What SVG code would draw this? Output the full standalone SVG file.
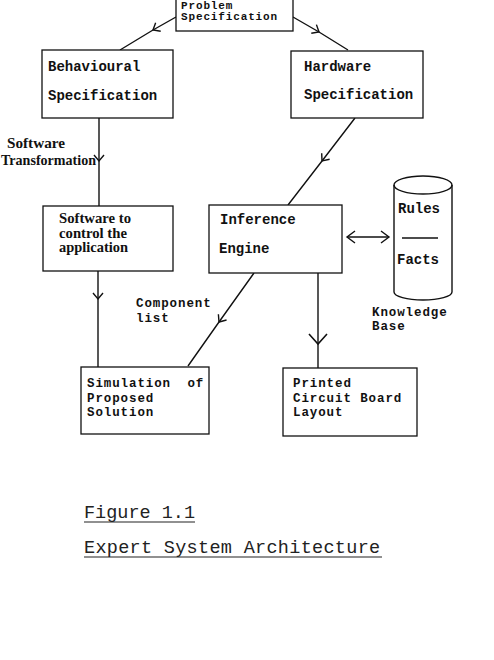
<svg xmlns="http://www.w3.org/2000/svg" width="494" height="660" viewBox="0 0 494 660">
<style>
.box{fill:#fff;stroke:#111;stroke-width:1.3}
.mono{font-family:"Liberation Mono","Courier New",monospace;font-weight:bold;font-size:14px;fill:#111}
.sm{font-size:12.5px;letter-spacing:0.9px}
.serif{font-family:"Liberation Serif","Times New Roman",serif;font-weight:bold;font-size:14px;fill:#111}
.ln{fill:none;stroke:#111;stroke-width:1.4}
.cap{font-family:"Liberation Mono","Courier New",monospace;font-size:18.5px;fill:#222}
</style>
<defs>
<marker id="chev" markerUnits="userSpaceOnUse" markerWidth="20" markerHeight="20" refX="0" refY="0" viewBox="-10 -10 20 20" orient="auto" overflow="visible">
<path d="M-6,-5 L0,0 L-6,5" fill="none" stroke="#111" stroke-width="1.4"/>
</marker>
<marker id="chevL" markerUnits="userSpaceOnUse" markerWidth="30" markerHeight="30" refX="0" refY="0" viewBox="-15 -15 30 30" orient="auto" overflow="visible">
<path d="M-10,-9 L0,0 L-10,9" fill="none" stroke="#111" stroke-width="1.6"/>
</marker>
<marker id="headE" markerUnits="userSpaceOnUse" markerWidth="20" markerHeight="20" refX="0" refY="0" viewBox="-10 -10 20 20" orient="auto" overflow="visible">
<path d="M-8,-6 L0,0 L-8,6" fill="none" stroke="#111" stroke-width="1.4"/>
</marker>
<marker id="headS" markerUnits="userSpaceOnUse" markerWidth="20" markerHeight="20" refX="0" refY="0" viewBox="-10 -10 20 20" orient="auto" overflow="visible">
<path d="M8,-6 L0,0 L8,6" fill="none" stroke="#111" stroke-width="1.4"/>
</marker>
</defs>

<g id="connectors">
<path class="ln" d="M176,17 L153,30 L120,50" marker-mid="url(#chev)"/>
<path class="ln" d="M293,17 L319,32 L348,50" marker-mid="url(#chev)"/>
<path class="ln" d="M99,118 L99,161 L99,206" marker-mid="url(#chev)"/>
<path class="ln" d="M355,118 L322,161 L288,205" marker-mid="url(#chev)"/>
<path class="ln" d="M254,273 L219,322 L188,366" marker-mid="url(#chev)"/>
<path class="ln" d="M98,271 L98,299 L98,367" marker-mid="url(#chev)"/>
<path class="ln" d="M318,273 L318,344 L318,368" marker-mid="url(#chevL)"/>
<path class="ln" d="M347,237 L389,237" marker-start="url(#headS)" marker-end="url(#headE)"/>
<text class="serif" x="7" y="148" textLength="58" lengthAdjust="spacingAndGlyphs">Software</text>
<text class="serif" x="1" y="165" textLength="95" lengthAdjust="spacingAndGlyphs">Transformation</text>
<text class="mono sm" x="136" y="307">Component</text>
<text class="mono sm" x="136" y="322">list</text>
</g>

<g id="problem">
<rect class="box" x="176" y="-2" width="117" height="33"/>
<text class="mono" style="font-size:11px;letter-spacing:0.86px" x="181" y="8.5">Problem</text>
<text class="mono" style="font-size:11px;letter-spacing:0.86px" x="181" y="20">Specification</text>
</g>

<g id="behavioural">
<rect class="box" x="42" y="50" width="131" height="68"/>
<text class="mono" x="48" y="71">Behavioural</text>
<text class="mono" x="48" y="100">Specification</text>
</g>

<g id="hardware">
<rect class="box" x="291" y="51" width="132" height="67"/>
<text class="mono" x="304" y="71">Hardware</text>
<text class="mono" x="304" y="99">Specification</text>
</g>

<g id="software">
<rect class="box" x="43" y="206" width="130" height="65"/>
<text class="serif" x="59" y="223" textLength="72" lengthAdjust="spacingAndGlyphs">Software to</text>
<text class="serif" x="59" y="238" textLength="68" lengthAdjust="spacingAndGlyphs">control the</text>
<text class="serif" x="59" y="252" textLength="69" lengthAdjust="spacingAndGlyphs">application</text>
</g>

<g id="inference">
<rect class="box" x="209" y="205" width="133" height="68"/>
<text class="mono" x="220" y="224">Inference</text>
<text class="mono" x="219" y="253">Engine</text>
</g>

<g id="knowledge">
<path class="ln" d="M394,185 L394,292 A29,8 0 0 0 452,292 L452,185"/>
<ellipse class="ln" cx="423" cy="185" rx="29" ry="9"/>
<line class="ln" x1="402" y1="238" x2="438" y2="238"/>
<text class="mono" x="398" y="213">Rules</text>
<text class="mono" x="397" y="264">Facts</text>
<text class="mono sm" x="372" y="316">Knowledge</text>
<text class="mono sm" x="372" y="330">Base</text>
</g>

<g id="simulation">
<rect class="box" x="81" y="367" width="128" height="67"/>
<text class="mono sm" x="87" y="387" word-spacing="8">Simulation of</text>
<text class="mono sm" x="87" y="402">Proposed</text>
<text class="mono sm" x="87" y="416">Solution</text>
</g>

<g id="pcb">
<rect class="box" x="283" y="368" width="134" height="68"/>
<text class="mono sm" x="293" y="387">Printed</text>
<text class="mono sm" x="293" y="402">Circuit Board</text>
<text class="mono sm" x="293" y="416">Layout</text>
</g>

<g id="caption">
<text class="cap" x="84" y="518">Figure 1.1</text>
<line x1="84" y1="522" x2="195" y2="522" stroke="#222" stroke-width="1.2"/>
<text class="cap" x="84" y="553" letter-spacing="0.3">Expert System Architecture</text>
<line x1="84" y1="557" x2="382" y2="557" stroke="#222" stroke-width="1.2"/>
</g>
</svg>
